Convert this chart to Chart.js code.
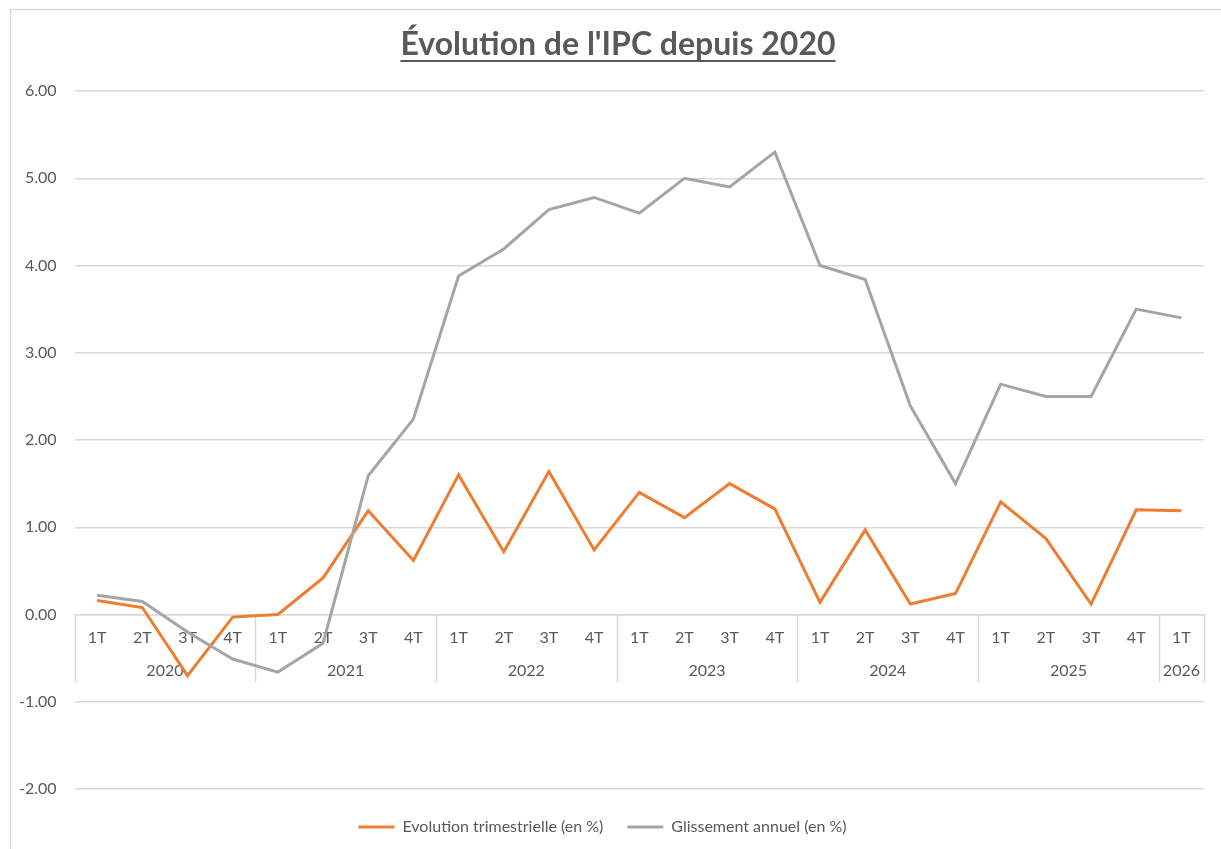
<!DOCTYPE html>
<html>
<head>
<meta charset="utf-8">
<script src="https://cdn.jsdelivr.net/npm/chart.js@4"></script>
<style>
html, body { margin: 0; background: #fff; }
#wrap { width: 1221px; height: 849px; }
</style>
</head>
<body>
<div id="wrap"><canvas id="ipcChart"></canvas></div>
<script>
const quarters = [
    '1T', '2T', '3T', '4T',
    '1T', '2T', '3T', '4T',
    '1T', '2T', '3T', '4T',
    '1T', '2T', '3T', '4T',
    '1T', '2T', '3T', '4T',
    '1T', '2T', '3T', '4T',
    '1T'
];
const years = ['2020', '2021', '2022', '2023', '2024', '2025', '2026'];
const quartersPerYear = [4, 4, 4, 4, 4, 4, 1];

const trimestrielle = [
    0.16, 0.08, -0.70, -0.03,
    0.00, 0.42, 1.19, 0.62,
    1.60, 0.72, 1.64, 0.74,
    1.40, 1.11, 1.50, 1.21,
    0.14, 0.97, 0.12, 0.24,
    1.29, 0.87, 0.12, 1.20,
    1.19
];
const glissement = [
    0.22, 0.15, -0.20, -0.51,
    -0.66, -0.33, 1.59, 2.24,
    3.88, 4.19, 4.64, 4.78,
    4.60, 5.00, 4.90, 5.30,
    4.00, 3.84, 2.39, 1.50,
    2.64, 2.50, 2.50, 3.50,
    3.40
];

const textColor = '#595959';
const gridColor = '#D9D9D9';
const fontName = 'Lato, "Open Sans", sans-serif';

// cadre + titre souligné
const frameAndTitle = {
    id: 'frameAndTitle',
    beforeDraw(chart) {
        const c = chart.ctx;
        c.save();
        c.strokeStyle = gridColor;
        c.lineWidth = 1.5;
        c.beginPath();
        c.moveTo(10.5, chart.height + 5);
        c.lineTo(10.5, 9.5);
        c.lineTo(chart.width + 5, 9.5);
        c.stroke();
        c.restore();
    },
    afterDraw(chart) {
        const c = chart.ctx;
        const title = "Évolution de l'IPC depuis 2020";
        c.save();
        c.font = 'bold 32px ' + fontName;
        c.fillStyle = textColor;
        c.textAlign = 'center';
        c.textBaseline = 'alphabetic';
        const cx = 618;
        c.fillText(title, cx, 55);
        const w = c.measureText(title).width;
        c.fillRect(cx - w / 2, 60, w, 2);
        c.restore();
    }
};

// second niveau de l'axe : années + séparateurs
const yearAxis = {
    id: 'yearAxis',
    beforeDatasetsDraw(chart) {
        const x = chart.scales.x;
        const y0 = chart.scales.y.getPixelForValue(0);
        const c = chart.ctx;
        c.save();
        c.strokeStyle = gridColor;
        c.lineWidth = 1.5;
        c.fillStyle = textColor;
        c.font = '16px ' + fontName;
        c.textAlign = 'center';
        c.textBaseline = 'middle';
        let start = 0;
        const edge = (i) => {
            if (i <= 0) return x.left;
            if (i >= quarters.length) return x.right;
            return (x.getPixelForValue(i - 1) + x.getPixelForValue(i)) / 2;
        };
        years.forEach((yr, k) => {
            const end = start + quartersPerYear[k];
            const a = edge(start);
            const b = edge(end);
            c.beginPath();
            c.moveTo(Math.round(a) + 0.5, y0);
            c.lineTo(Math.round(a) + 0.5, y0 + 68);
            c.stroke();
            if (end === quarters.length) {
                c.beginPath();
                c.moveTo(Math.round(b) + 0.5, y0);
                c.lineTo(Math.round(b) + 0.5, y0 + 68);
                c.stroke();
            }
            c.fillText(yr, (a + b) / 2, y0 + 56);
            start = end;
        });
        c.restore();
    }
};

const ctx = document.getElementById('ipcChart').getContext('2d');
const ipcChart = new Chart(ctx, {
    type: 'line',
    data: {
        labels: quarters,
        datasets: [{
            label: 'Evolution trimestrielle (en %)',
            data: trimestrielle,
            borderColor: '#ED7D31',
            backgroundColor: '#ED7D31',
            borderWidth: 3,
            pointRadius: 0,
            pointStyle: 'line',
            tension: 0,
            order: 1
        }, {
            label: 'Glissement annuel (en %)',
            data: glissement,
            borderColor: '#A5A5A5',
            backgroundColor: '#A5A5A5',
            borderWidth: 3,
            pointRadius: 0,
            pointStyle: 'line',
            tension: 0,
            order: 0
        }]
    },
    options: {
        responsive: true,
        maintainAspectRatio: false,
        animation: false,
        layout: {
            padding: { top: 91, left: 1, right: 17, bottom: 4 }
        },
        plugins: {
            title: { display: false },
            tooltip: { enabled: false },
            legend: {
                display: true,
                position: 'bottom',
                // petit titre vide pour laisser de l'air au-dessus de la légende
                title: { display: true, text: '', padding: 0, font: { size: 5 } },
                labels: {
                    usePointStyle: true,
                    pointStyleWidth: 36,
                    color: textColor,
                    padding: 24,
                    font: { family: fontName, size: 16 },
                    sort: (a, b) => a.datasetIndex - b.datasetIndex
                }
            }
        },
        scales: {
            x: {
                type: 'category',
                offset: true,
                position: { y: 0 },
                grid: { display: false, drawTicks: false },
                border: { display: true, color: gridColor, width: 1.5 },
                ticks: {
                    color: textColor,
                    padding: 14,
                    autoSkip: false,
                    maxRotation: 0,
                    font: { family: fontName, size: 16 }
                }
            },
            y: {
                min: -2,
                max: 6,
                grid: { color: gridColor, lineWidth: 1.5, drawTicks: false },
                border: { display: false },
                ticks: {
                    stepSize: 1,
                    padding: 18,
                    color: textColor,
                    font: { family: fontName, size: 16 },
                    callback: (v) => v.toFixed(2)
                }
            }
        }
    },
    plugins: [frameAndTitle, yearAxis]
});
</script>
</body>
</html>
